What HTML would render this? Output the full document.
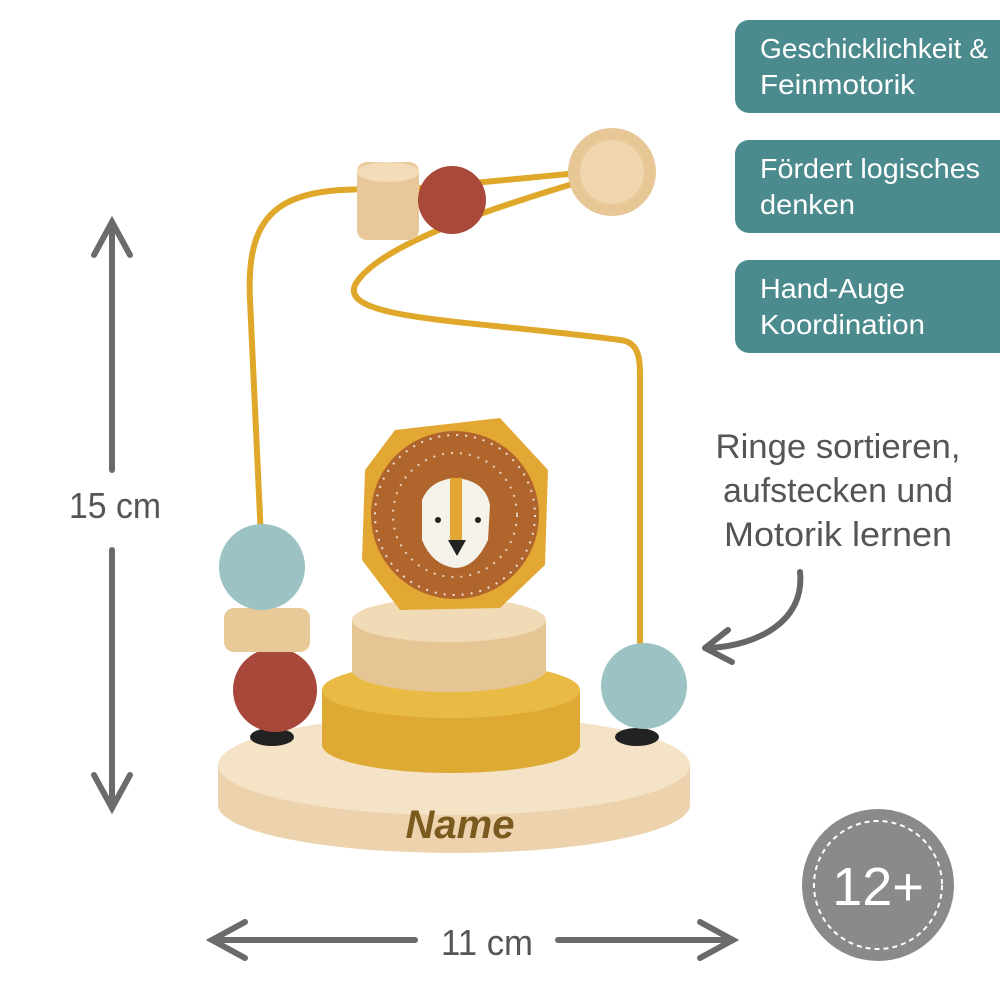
<!DOCTYPE html>
<html><head><meta charset="utf-8"><style>
html,body{margin:0;padding:0;background:#fff;}
svg{display:block;}
text{font-family:"Liberation Sans",sans-serif;}
</style></head><body>
<svg width="1000" height="1000" viewBox="0 0 1000 1000" xmlns="http://www.w3.org/2000/svg">
<rect width="1000" height="1000" fill="#fff"/>
<g fill="#4b8a8d">
<rect x="735" y="20" width="290" height="93" rx="14"/>
<rect x="735" y="140" width="290" height="93" rx="14"/>
<rect x="735" y="260" width="290" height="93" rx="14"/>
</g>
<g fill="#fff" font-size="28">
<text x="760" y="58" textLength="228" lengthAdjust="spacingAndGlyphs">Geschicklichkeit &amp;</text>
<text x="760" y="94" textLength="155" lengthAdjust="spacingAndGlyphs">Feinmotorik</text>
<text x="760" y="178" textLength="220" lengthAdjust="spacingAndGlyphs">Fördert logisches</text>
<text x="760" y="214" textLength="95" lengthAdjust="spacingAndGlyphs">denken</text>
<text x="760" y="298" textLength="145" lengthAdjust="spacingAndGlyphs">Hand-Auge</text>
<text x="760" y="334" textLength="165" lengthAdjust="spacingAndGlyphs">Koordination</text>
</g>
<g fill="#555" font-size="34" text-anchor="middle">
<text x="838" y="458" textLength="245" lengthAdjust="spacingAndGlyphs">Ringe sortieren,</text>
<text x="838" y="502" textLength="230" lengthAdjust="spacingAndGlyphs">aufstecken und</text>
<text x="838" y="546" textLength="228" lengthAdjust="spacingAndGlyphs">Motorik lernen</text>
</g>
<path d="M800 572 C805 620 760 645 710 648" fill="none" stroke="#666" stroke-width="6" stroke-linecap="round"/>
<path d="M728 630 L705 648 L732 662" fill="none" stroke="#666" stroke-width="6" stroke-linecap="round" stroke-linejoin="round"/>
<g stroke="#6b6b6b" stroke-width="6" stroke-linecap="round" fill="none">
<line x1="112" y1="222" x2="112" y2="470"/>
<line x1="112" y1="550" x2="112" y2="808"/>
<path d="M94 255 L112 222 L130 255"/>
<path d="M94 775 L112 808 L130 775"/>
<line x1="212" y1="940" x2="415" y2="940"/>
<line x1="558" y1="940" x2="733" y2="940"/>
<path d="M245 922 L212 940 L245 958"/>
<path d="M700 922 L733 940 L700 958"/>
</g>
<text x="115" y="518" font-size="36" fill="#555" text-anchor="middle" textLength="92" lengthAdjust="spacingAndGlyphs">15 cm</text>
<text x="487" y="955" font-size="36" fill="#555" text-anchor="middle" textLength="92" lengthAdjust="spacingAndGlyphs">11 cm</text>
<circle cx="878" cy="885" r="76" fill="#8a8a8a"/>
<circle cx="878" cy="885" r="64" fill="none" stroke="#fff" stroke-width="2" stroke-dasharray="5 4"/>
<text x="878" y="905" font-size="54" fill="#fff" text-anchor="middle">12+</text>
<path d="M218 765 L218 805 A236 48 0 0 0 690 805 L690 765 Z" fill="#ecd3ad"/>
<ellipse cx="454" cy="765" rx="236" ry="50" fill="#f4e3c6"/>
<text x="460" y="838" font-size="40" font-style="italic" font-weight="bold" fill="#7a5a1f" text-anchor="middle" font-family="Liberation Serif">Name</text>
<g fill="none" stroke="#e0a82a" stroke-width="6">
<path d="M262 560 L250 300 C245 200 290 185 400 190 L610 170"/>
<path d="M612 172 C520 200 380 240 355 285 C340 320 470 320 620 340 C640 342 640 360 640 380 L640 660"/>
</g>
<rect x="357" y="162" width="62" height="78" rx="10" fill="#e8c79a"/>
<ellipse cx="388" cy="172" rx="31" ry="10" fill="#f3dcb8"/>
<circle cx="452" cy="200" r="34" fill="#a8493a"/>
<circle cx="612" cy="172" r="44" fill="#e7c795"/>
<circle cx="612" cy="172" r="32" fill="#efd6ae"/>
<ellipse cx="272" cy="737" rx="22" ry="9" fill="#222"/>
<circle cx="275" cy="690" r="42" fill="#a8483a"/>
<rect x="224" y="608" width="86" height="44" rx="10" fill="#e8c998"/>
<circle cx="262" cy="567" r="43" fill="#9cc2c4"/>
<ellipse cx="637" cy="737" rx="22" ry="9" fill="#222"/>
<circle cx="644" cy="686" r="43" fill="#9cc2c4"/>
<path d="M322 690 L322 745 A129 28 0 0 0 580 745 L580 690 Z" fill="#deaa34"/>
<ellipse cx="451" cy="690" rx="129" ry="28" fill="#e9bb45"/>
<path d="M352 620 L352 670 A97 22 0 0 0 546 670 L546 620 Z" fill="#e6c595"/>
<ellipse cx="449" cy="620" rx="97" ry="22" fill="#f1dbb7"/>
<path d="M395 430 L500 418 L548 470 L545 565 L500 608 L400 610 L362 560 L365 470 Z" fill="#e3a833"/>
<circle cx="455" cy="515" r="84" fill="#b0652c"/>
<circle cx="455" cy="515" r="80" fill="none" stroke="#fff" stroke-width="2" stroke-dasharray="2 7" opacity="0.8"/>
<circle cx="455" cy="515" r="62" fill="none" stroke="#fff" stroke-width="2" stroke-dasharray="2 7" opacity="0.7"/>
<path d="M422 500 Q430 480 455 478 Q485 480 490 505 L488 540 Q475 568 455 568 Q432 565 422 540 Z" fill="#f5f2ea"/>
<rect x="450" y="478" width="12" height="62" fill="#e3a833"/>
<path d="M448 540 L466 540 L457 556 Z" fill="#222"/>
<circle cx="438" cy="520" r="3" fill="#222"/><circle cx="478" cy="520" r="3" fill="#222"/>
</svg>
</body></html>
